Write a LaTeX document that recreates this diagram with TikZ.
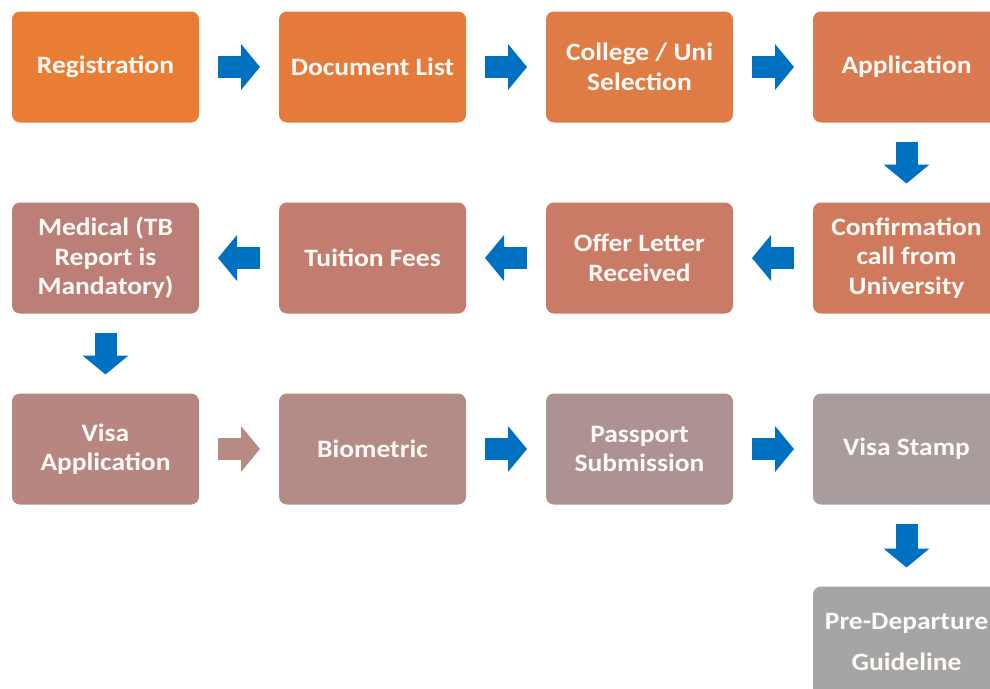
\documentclass[tikz,border=0pt]{standalone}
\usepackage{fontspec}
\setmainfont{Carlito}[FakeStretch=1.1]
\definecolor{step1}{RGB}{233, 125, 51}
\definecolor{step2}{RGB}{229, 123, 59}
\definecolor{step3}{RGB}{223, 123, 69}
\definecolor{step4}{RGB}{217, 122, 80}
\definecolor{step5}{RGB}{207, 122, 92}
\definecolor{step6}{RGB}{201, 123, 101}
\definecolor{step7}{RGB}{194, 125, 110}
\definecolor{step8}{RGB}{188, 127, 119}
\definecolor{step9}{RGB}{184, 134, 128}
\definecolor{step10}{RGB}{179, 140, 135}
\definecolor{step11}{RGB}{174, 146, 146}
\definecolor{step12}{RGB}{168, 156, 156}
\definecolor{step13}{RGB}{165, 165, 165}
\definecolor{flowarrow}{RGB}{0, 112, 192}
\definecolor{paleflow}{RGB}{183, 138, 132}
\usetikzlibrary{positioning, arrows.meta}

\begin{document}
\begin{tikzpicture}[
		x=1pt, y=1pt,
		node distance=80pt,
		box/.style={rounded corners=8pt, minimum height=111pt, minimum width=187pt, inner sep=0pt, outer sep=0pt, text=white!96!orange, align=center, font=\fontsize{25}{29.5}\selectfont\bfseries},
		flow/.style={draw=flowarrow, line width=22pt, shorten <=19pt, shorten >=19pt, -{Triangle[width=45pt, length=19pt]}}
		]
		
		\useasboundingbox (0,0) rectangle (990,-688);
		\clip (0,0) rectangle (990,-688);
		
		\node[box, fill=step1] (reg) at (105.5,-67) {Registration};
		\node[box, fill=step2, right=of reg] (doclist) {Document List};
		\node[box, fill=step3, right=of doclist] (college) {College / Uni\\Selection};
		\node[box, fill=step4, right=of college] (appl) {Application};
		\node[box, fill=step5, below=of appl] (confirm) {Confirmation\\call from\\University};
		\node[box, fill=step6, left=of confirm] (offer) {Offer Letter\\Received};
		\node[box, fill=step7, left=of offer] (fees) {Tuition Fees};
		\node[box, fill=step8, left=of fees] (medical) {Medical (TB\\Report is\\Mandatory)};
		\node[box, fill=step9, below=of medical] (visaapp) {Visa\\Application};
		\node[box, fill=step10, right=of visaapp] (bio) {Biometric};
		\node[box, fill=step11, right=of bio] (passport) {Passport\\Submission};
		\node[box, fill=step12, right=of passport] (stamp) {Visa Stamp};
		\node[box, fill=step13, below=82pt of stamp] (predep) {Pre-Departure\\[11pt]Guideline};
		
		\draw[flow] (reg) -- (doclist);
		\draw[flow] (doclist) -- (college);
		\draw[flow] (college) -- (appl);
		\draw[flow] (appl) -- (confirm);
		\draw[flow] (confirm) -- (offer);
		\draw[flow] (offer) -- (fees);
		\draw[flow] (fees) -- (medical);
		\draw[flow] (medical) -- (visaapp);
		\draw[flow, draw=paleflow] (visaapp) -- (bio);
		\draw[flow] (bio) -- (passport);
		\draw[flow] (passport) -- (stamp);
		\draw[flow] (stamp) -- (predep);
		
	\end{tikzpicture}
\end{document}
